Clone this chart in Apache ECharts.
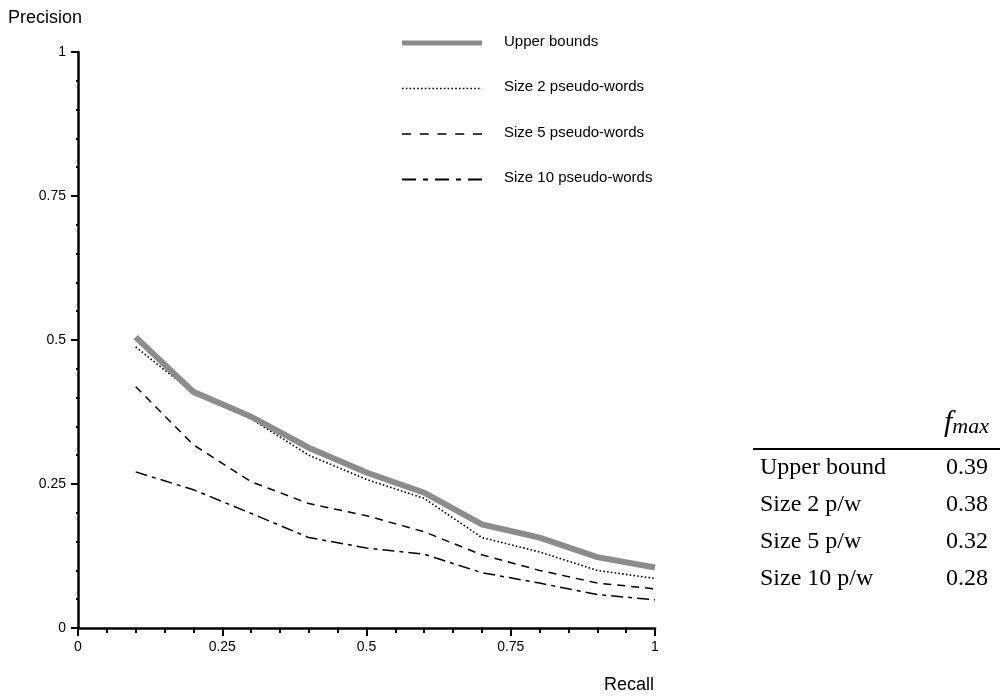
<!DOCTYPE html>
<html>
<head>
<meta charset="utf-8">
<title>Precision / Recall</title>
<script src="https://cdn.jsdelivr.net/npm/echarts@6/dist/echarts.min.js"></script>
<style>
  html, body { margin: 0; padding: 0; background: #ffffff; }
  #chart { width: 1001px; height: 700px; }
</style>
</head>
<body>
<div id="chart"></div>
<script>
// Recall levels at which precision was measured
const recall = [0.1, 0.2, 0.3, 0.4, 0.5, 0.6, 0.7, 0.8, 0.9, 1.0];

// Precision curves
const upperBounds = [0.505, 0.410, 0.367, 0.313, 0.270, 0.235, 0.180, 0.157, 0.123, 0.105];
const size2Words  = [0.488, 0.408, 0.363, 0.300, 0.258, 0.225, 0.157, 0.132, 0.100, 0.086];
const size5Words  = [0.419, 0.318, 0.254, 0.216, 0.195, 0.167, 0.127, 0.100, 0.078, 0.068];
const size10Words = [0.271, 0.240, 0.199, 0.157, 0.139, 0.128, 0.096, 0.078, 0.058, 0.049];

const seriesNames = ['Upper bounds', 'Size 2 pseudo-words', 'Size 5 pseudo-words', 'Size 10 pseudo-words'];

// Axis tick labels
const xTickLabels = ['0', '0.25', '0.5', '0.75', '1'];
const yTickLabels = ['0', '0.25', '0.5', '0.75', '1'];

// Summary table of best F-measure
const tableLabels = ['Upper bound', 'Size 2 p/w', 'Size 5 p/w', 'Size 10 p/w'];
const fmaxValues  = ['0.39', '0.38', '0.32', '0.28'];

const SANS = 'Liberation Sans, Arial, Helvetica, sans-serif';
const SERIF = 'Liberation Serif, Times New Roman, serif';

// Stroke styles for the curves and for the legend samples
const styles = [
  { color: '#8c8c8a', width: 6, type: 'solid', legendWidth: 5, legendDash: null },
  { color: '#000000', width: 1.6, type: [1.6, 2.2], legendWidth: 1.6, legendDash: [1.6, 2.2] },
  { color: '#000000', width: 1.5, type: [8, 6], legendWidth: 1.6, legendDash: [9, 8.75] },
  { color: '#000000', width: 1.5, type: [12, 5, 4, 5], legendWidth: 1.8, legendDash: [14, 7, 5, 7] }
];
const curves = [upperBounds, size2Words, size5Words, size10Words];

const chart = echarts.init(document.getElementById('chart'), null, { renderer: 'canvas' });

const series = curves.map((vals, i) => ({
  name: seriesNames[i],
  type: 'line',
  data: recall.map((r, k) => [r, vals[k]]),
  showSymbol: false,
  symbol: 'none',
  lineStyle: { color: styles[i].color, width: styles[i].width, type: styles[i].type, cap: 'butt', join: 'miter' },
  z: 10 - i,
  silent: true,
  animation: false
}));

// Legend drawn as sample strokes followed by labels
const legendGraphics = [];
seriesNames.forEach((name, i) => {
  const y = 43 + i * 45.5;
  legendGraphics.push({
    type: 'line',
    shape: { x1: 402, y1: y, x2: 482, y2: y },
    style: { stroke: styles[i].color, lineWidth: styles[i].legendWidth, lineDash: styles[i].legendDash },
    silent: true
  });
  legendGraphics.push({
    type: 'text',
    left: 504, top: y - 9,
    style: { text: name, font: '15px ' + SANS, fill: '#000' },
    silent: true
  });
});

// Table at the right
const tableGraphics = [
  {
    type: 'text', left: 944, top: 408,
    style: {
      text: '{f|f}{m|max}',
      rich: {
        f: { font: 'italic 30px ' + SERIF, fill: '#000', verticalAlign: 'bottom' },
        m: { font: 'italic 22px ' + SERIF, fill: '#000', padding: [10, 0, 0, 0], verticalAlign: 'bottom' }
      }
    }
  },
  { type: 'line', shape: { x1: 753, y1: 449, x2: 1000, y2: 449 }, style: { stroke: '#000', lineWidth: 2 } }
];
tableLabels.forEach((lab, i) => {
  const y = 469 + i * 37;
  tableGraphics.push({
    type: 'text', left: 760, top: y - 13,
    style: { text: lab, font: '24px ' + SERIF, fill: '#000' }
  });
  tableGraphics.push({
    type: 'text', right: 13, top: y - 13,
    style: { text: fmaxValues[i], font: '24px ' + SERIF, fill: '#000', align: 'right' }
  });
});

chart.setOption({
  animation: false,
  backgroundColor: '#ffffff',
  title: [
    { text: 'Precision', left: 3, top: 4, textStyle: { fontFamily: SANS, fontWeight: 'normal', fontSize: 18, color: '#000' } },
    { text: 'Recall', right: 342, top: 671, textStyle: { fontFamily: SANS, fontWeight: 'normal', fontSize: 18, color: '#000' } }
  ],
  grid: { left: 78, right: 346, top: 52, bottom: 72, containLabel: false },
  xAxis: {
    type: 'value', min: 0, max: 1, interval: 0.25,
    axisLine: { show: true, onZero: false, lineStyle: { color: '#000', width: 2.5 } },
    axisTick: { show: true, inside: false, length: 8, lineStyle: { color: '#000', width: 2 } },
    minorTick: { show: true, splitNumber: 5, length: 5, lineStyle: { color: '#000', width: 2 } },
    splitLine: { show: false },
    axisLabel: {
      margin: 12, color: '#000', fontFamily: SANS, fontSize: 14,
      formatter: (v) => xTickLabels[Math.round(v / 0.25)]
    }
  },
  yAxis: {
    type: 'value', min: 0, max: 1, interval: 0.25,
    axisLine: { show: true, onZero: false, lineStyle: { color: '#000', width: 2.5 } },
    axisTick: { show: true, inside: false, length: 7, lineStyle: { color: '#000', width: 2 } },
    minorTick: { show: true, splitNumber: 5, length: 2, lineStyle: { color: '#000', width: 2 } },
    splitLine: { show: false },
    axisLabel: {
      margin: 12, color: '#000', fontFamily: SANS, fontSize: 14,
      formatter: (v) => yTickLabels[Math.round(v / 0.25)]
    }
  },
  series: series,
  graphic: legendGraphics.concat(tableGraphics)
});
</script>
</body>
</html>
